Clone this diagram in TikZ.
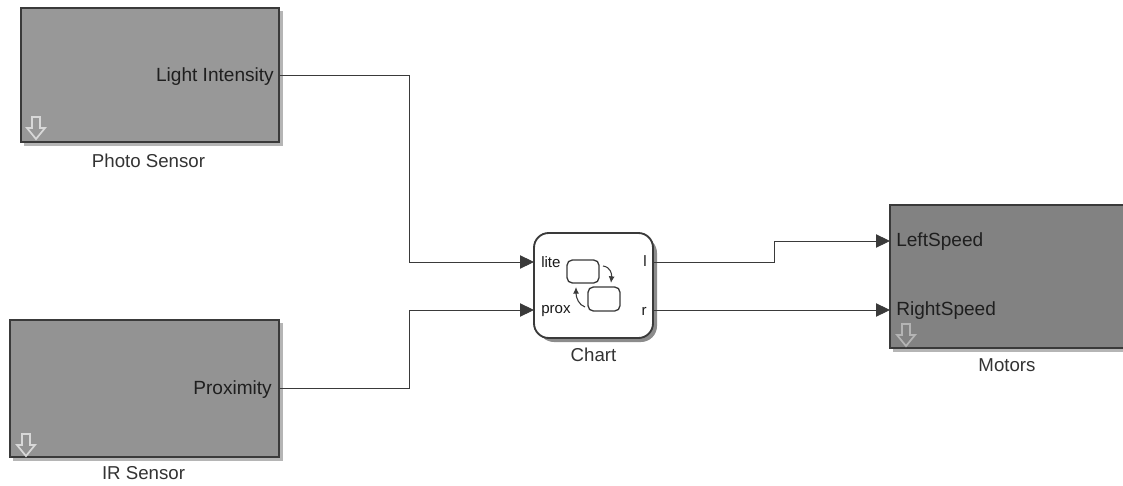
\documentclass[tikz,border=0pt]{standalone}
\usepackage{fontspec}
\setmainfont{Liberation Sans}
\usetikzlibrary{arrows.meta}
\definecolor{ink}{HTML}{3A3A3A}
\definecolor{photofill}{HTML}{989898}
\definecolor{irfill}{HTML}{939393}
\definecolor{motorfill}{HTML}{828282}
\definecolor{shade}{HTML}{B5B5B5}
\tikzset{
  x=0.75pt,y=-0.75pt,
  subsys/.style={draw=ink,line width=1.4pt,inner sep=0pt,outer sep=0pt},
  shadowbar/.style={fill=shade,draw=none},
  wire/.style={draw=ink,line width=0.65pt,-{Triangle[length=10.5pt,width=10pt,fill=ink]}},
  lbl/.style={font=\fontsize{14pt}{16pt}\selectfont,text=black!80,inner sep=0pt},
  portlbl/.style={font=\fontsize{14.3pt}{16pt}\selectfont,text=black!88,inner sep=0pt},
  chartlbl/.style={font=\fontsize{11.3pt}{13pt}\selectfont,text=black!90,inner sep=0pt},
  downglyph/.style={draw=#1,line width=1.3pt,fill=none,line join=miter},
  statebox/.style={draw=ink,line width=1pt,rounded corners=4pt,fill=white},
  statearrow/.style={draw=ink,line width=0.8pt,-{Latex[length=5pt,width=4.5pt]}}
}
\newcommand{\downmark}[3]{% x, y top, colour
  \draw[downglyph=#3] (#1-4,#2) -- (#1+4,#2) -- (#1+4,#2+11) -- (#1+9,#2+11) -- (#1,#2+22) -- (#1-9,#2+11) -- (#1-4,#2+11) -- cycle;
}
\begin{document}
\begin{tikzpicture}
\useasboundingbox (0,0) rectangle (1123,485);
\fill[white] (0,0) rectangle (1123,485);

% shadows
\fill[shadowbar] (24,11) rectangle (283,146);
\fill[shadowbar] (13,323) rectangle (283,461);
\fill[shadowbar] (893,208) rectangle (1123,352);
\fill[black!45,rounded corners=12pt] (538,237) rectangle (657,342);

% blocks
\node[subsys,fill=photofill,minimum width=193.5pt,minimum height=100.5pt] (photo) at (150,75) {};
\node[subsys,fill=irfill,minimum width=201.75pt,minimum height=102.75pt] (ir) at (144.5,388.5) {};
\node[subsys,fill=motorfill,minimum width=175.5pt,minimum height=107.25pt] (motors) at (1007,276.5) {};
\node[subsys,fill=white,rounded corners=11pt,minimum width=89.25pt,minimum height=78.75pt] (chart) at (593.5,285.5) {};

\coordinate (b1) at (409,75);
\coordinate (b2) at (409,262);
\coordinate (b3) at (409,388.5);
\coordinate (b4) at (409,310);
\coordinate (b5) at (774,262);
\coordinate (b6) at (774,241);

% connectors
\draw[wire] (photo.east) -- (b1) -- (b2) -- (chart.west |- b2);
\draw[wire] (ir.east) -- (b3) -- (b4) -- (chart.west |- b4);
\draw[wire] (chart.east |- b5) -- (b5) -- (b6) -- (motors.west |- b6);
\draw[wire] (chart.east |- b4) -- (motors.west |- b4);

% port labels
\node[portlbl,anchor=east] (lLight) at (274,77) {Light Intensity};
\node[portlbl,anchor=east] (lProx) at (272,390) {Proximity};
\node[portlbl,anchor=west] (lLeft) at (896,242) {LeftSpeed};
\node[portlbl,anchor=west] (lRight) at (896,310.5) {RightSpeed};

% block captions
\node[lbl] (cPhoto) at (148.5,161) {Photo Sensor};
\node[lbl] (cIR) at (143.5,473) {IR Sensor};
\node[lbl] (cChart) at (593.5,355) {Chart};
\node[lbl] (cMotors) at (1007,365) {Motors};

% chart internals
\node[chartlbl,anchor=west] (lLite) at (541,262) {lite};
\node[chartlbl,anchor=west] (lPr) at (541,311) {prox};
\node[chartlbl,anchor=east] (lL) at (647,261) {l};
\node[chartlbl,anchor=east] (lR) at (647,311) {r};
\draw[statebox] (567,260) rectangle (599,283);
\draw[statebox] (588,287) rectangle (620,311);
\draw[statearrow] (603,266) .. controls (610,267) and (612,273) .. (611,283);
\draw[statearrow] (585,307) .. controls (579,305) and (576,298) .. (576,287);

% subsystem marks
\downmark{36}{117}{white!80!ink}
\downmark{26}{434}{white!80!ink}
\downmark{906}{324}{white!62!ink}
\end{tikzpicture}
\end{document}
